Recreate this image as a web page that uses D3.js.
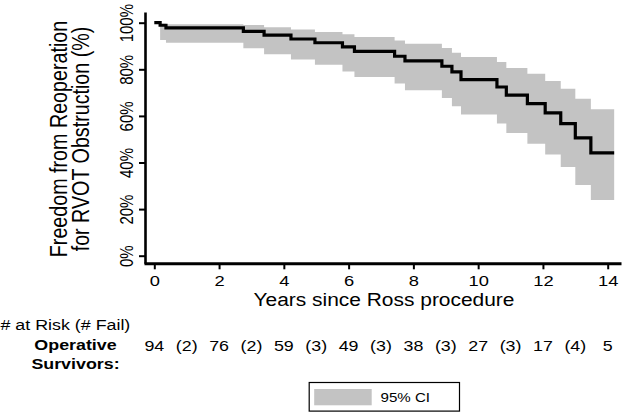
<!DOCTYPE html>
<html>
<head>
<meta charset="utf-8">
<script src="https://cdn.jsdelivr.net/npm/d3@7"></script>
<style>
  html, body { margin: 0; padding: 0; background: #fff; }
  svg { display: block; }
  text { font-family: "Liberation Sans", Arial, Helvetica, sans-serif; fill: #000; }
</style>
</head>
<body>
<svg id="chart" width="623" height="412"></svg>
<script>
// ---- data ----
const stepYears = [0, 0.18, 0.36, 2.75, 3.39, 4.22, 4.96, 5.81, 6.18, 7.42, 7.74, 8.88, 9.19, 9.47, 10.58, 10.87, 11.52, 12.07, 12.55, 13.0, 13.48];
const survival  = [100, 98.9, 97.8, 96.3, 94.7, 93.0, 91.4, 89.6, 87.7, 85.6, 83.6, 81.3, 78.9, 75.6, 72.4, 68.9, 65.3, 61.3, 56.7, 50.6, 44.1];
const ciUpper   = [100, 99.5, 99.3, 99.0, 98.0, 97.1, 96.0, 95.0, 93.9, 92.4, 91.0, 89.1, 87.1, 85.3, 83.1, 80.6, 78.1, 75.0, 71.7, 67.4, 62.9];
const ciLower   = [100, 92.6, 91.4, 89.0, 86.5, 84.2, 81.9, 79.1, 76.7, 73.9, 71.0, 67.7, 64.1, 60.6, 56.7, 52.7, 48.1, 43.4, 38.1, 30.3, 23.9];
const lastYear  = 14.2;

const xTicks = [0, 2, 4, 6, 8, 10, 12, 14];
const yTicks = [0, 20, 40, 60, 80, 100];
const atRisk = [94, 76, 59, 49, 38, 27, 17, 5];   // at years 0,2,...,14
const failed = [2, 2, 3, 3, 3, 3, 4];            // between, at years 1,3,...,13

const yTitle = ["Freedom from Reoperation", "for RVOT Obstruction (%)"];
const xTitle = "Years since Ross procedure";
const riskTitle = "# at Risk (# Fail)";
const groupLabel = ["Operative", "Survivors:"];
const legendLabel = "95% CI";

// ---- layout ----
const SX = 1.19;            // horizontal stretch of the glyphs in the reference
const bandColor = "#c3c3c3";
const svg = d3.select("#chart");

const x = d3.scaleLinear().domain([0, 14]).range([154.3, 607.7]);
const y = d3.scaleLinear().domain([0, 100]).range([255.7, 22.7]);

const xAxisLeft = 144, xAxisRight = 621, xAxisY = 263.3;
const yAxisX = 145, yAxisTop = 12;

const xAxisScale = d3.scaleLinear()
  .domain([x.invert(xAxisLeft), x.invert(xAxisRight)]).range([xAxisLeft, xAxisRight]);
const yAxisScale = d3.scaleLinear()
  .domain([y.invert(xAxisY), y.invert(yAxisTop)]).range([xAxisY, yAxisTop]);

// series rows
const rows = stepYears.map((t, i) => ({ t, s: survival[i], hi: ciUpper[i], lo: ciLower[i] }));
const last = rows[rows.length - 1];
rows.push({ t: lastYear, s: last.s, hi: last.hi, lo: last.lo });

// CI band
svg.append("path")
  .datum(rows)
  .attr("fill", bandColor)
  .attr("d", d3.area().curve(d3.curveStepAfter)
    .x(d => x(d.t)).y0(d => y(d.lo)).y1(d => y(d.hi)));

// KM step line
svg.append("path")
  .datum(rows)
  .attr("fill", "none")
  .attr("stroke", "#000")
  .attr("stroke-width", 3.2)
  .attr("d", d3.line().curve(d3.curveStepAfter).x(d => x(d.t)).y(d => y(d.s)));

// x axis
const gx = svg.append("g")
  .attr("transform", `translate(0,${xAxisY})`)
  .call(d3.axisBottom(xAxisScale).tickValues(xTicks).tickSizeOuter(0).tickSizeInner(6).tickFormat(d3.format("d")));
gx.select(".domain").attr("stroke-width", 3);
gx.selectAll(".tick line").attr("stroke-width", 2);
gx.selectAll(".tick text")
  .attr("y", 22.7).attr("dy", 0)
  .attr("font-size", 15.4)
  .attr("font-family", null)
  .attr("transform", `scale(${SX},1)`);

// y axis
const gy = svg.append("g")
  .attr("transform", `translate(${yAxisX},0)`)
  .call(d3.axisLeft(yAxisScale).tickValues(yTicks).tickSizeOuter(0).tickSizeInner(6).tickFormat(d => d + "%"));
gy.select(".domain").attr("stroke-width", 2.6);
gy.selectAll(".tick line").attr("stroke-width", 2);
gy.selectAll(".tick text")
  .attr("x", null).attr("dy", 0)
  .attr("font-size", 15)
  .attr("font-family", null)
  .attr("text-anchor", "middle")
  .attr("transform", `translate(-11.7,0) scale(${SX},1) rotate(-90)`);
svg.selectAll(".domain").attr("stroke", "#000");

// y title
const yTitleX = [66.8, 88.6];
yTitle.forEach((t, i) => {
  svg.append("text")
    .attr("transform", `translate(${yTitleX[i]},139) scale(${SX},1) rotate(-90)`)
    .attr("text-anchor", "middle")
    .attr("font-size", 19.7)
    .text(t);
});

// x title
svg.append("text")
  .attr("transform", `translate(${(x(0) + x(14)) / 2 + 3},306) scale(${SX},1)`)
  .attr("text-anchor", "middle")
  .attr("font-size", 17.6)
  .text(xTitle);

// risk table
svg.append("text")
  .attr("transform", `translate(0.5,330) scale(${SX},1)`)
  .attr("font-size", 15)
  .text(riskTitle);
groupLabel.forEach((t, i) => {
  svg.append("text")
    .attr("transform", `translate(75.5,${350 + i * 18.5}) scale(${SX},1)`)
    .attr("text-anchor", "middle")
    .attr("font-size", 15)
    .attr("font-weight", "bold")
    .text(t);
});
const riskCells = [];
atRisk.forEach((n, i) => {
  riskCells.push({ yr: i * 2, label: String(n) });
  if (i < failed.length) riskCells.push({ yr: i * 2 + 1, label: `(${failed[i]})` });
});
svg.append("g").selectAll("text")
  .data(riskCells)
  .join("text")
  .attr("transform", d => `translate(${x(d.yr)},350.5) scale(${SX},1)`)
  .attr("text-anchor", "middle")
  .attr("font-size", 15)
  .text(d => d.label);

// legend
const lg = svg.append("g");
lg.append("rect")
  .attr("x", 309.2).attr("y", 382.5).attr("width", 150.3).attr("height", 28.6)
  .attr("fill", "#fff").attr("stroke", "#000").attr("stroke-width", 1.2);
lg.append("rect")
  .attr("x", 314.2).attr("y", 389).attr("width", 57.5).attr("height", 16.3)
  .attr("fill", bandColor);
lg.append("text")
  .attr("transform", `translate(380.5,401.8) scale(${SX},1)`)
  .attr("font-size", 12.7)
  .text(legendLabel);
</script>
</body>
</html>
